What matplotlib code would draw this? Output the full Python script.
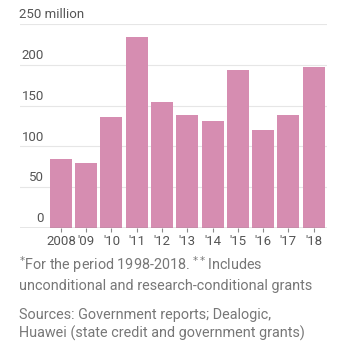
import matplotlib.pyplot as plt
import matplotlib.transforms as mtransforms

years = ["2008", "'09", "'10", "'11", "'12", "'13", "'14", "'15", "'16", "'17", "'18"]
values = [85, 80, 136, 234, 155, 138, 131, 194, 120, 138, 197]
yticks = [0, 50, 100, 150, 200, 250]

plt.rcParams['font.family'] = ['Roboto', 'DejaVu Sans']

fig = plt.figure(figsize=(3.43, 3.51), dpi=100)
ax = fig.add_axes([20 / 343, 1 - 228 / 351, 307 / 343, 204 / 351])

x = list(range(len(years)))
ax.bar(x, values, width=0.87, color='#d68db1', zorder=2)
ax.set_xlim(-1.62, 10.53)
ax.set_ylim(0, 250)

for v in yticks:
    ax.axhline(v, color='#e6e6e6', lw=0.8, zorder=1)
ax.axhline(0, color='#8a8a8a', lw=1.0, zorder=3)

trans = mtransforms.blended_transform_factory(ax.transAxes, ax.transData)
for v in yticks:
    if v == 250:
        ax.text(-0.003, v + 3.5, '250 million', ha='left', va='bottom',
                fontsize=9.5, color='#555555', transform=trans)
    else:
        ax.text(0.078, v + 3.5, str(v), ha='right', va='bottom',
                fontsize=9.5, color='#555555', transform=trans)

ax.set_yticks([])
ax.set_xticks(x)
ax.set_xticklabels(years, fontsize=9.5, color='#555555')
ax.tick_params(axis='x', length=3, width=0.8, color='#8a8a8a', pad=2)
for s in ax.spines.values():
    s.set_visible(False)

fig.text(19 / 343, 1 - 273.5 / 351,
         '$^{*}$For the period 1998-2018. $^{**}$Includes\nunconditional and research-conditional grants',
         ha='left', va='center', fontsize=10.4, color='#777777', linespacing=1.3)
fig.text(19 / 343, 1 - 324.5 / 351,
         'Sources: Government reports; Dealogic,\nHuawei (state credit and government grants)',
         ha='left', va='center', fontsize=10.4, color='#777777', linespacing=1.3)

fig.savefig('out.png', dpi=100)
